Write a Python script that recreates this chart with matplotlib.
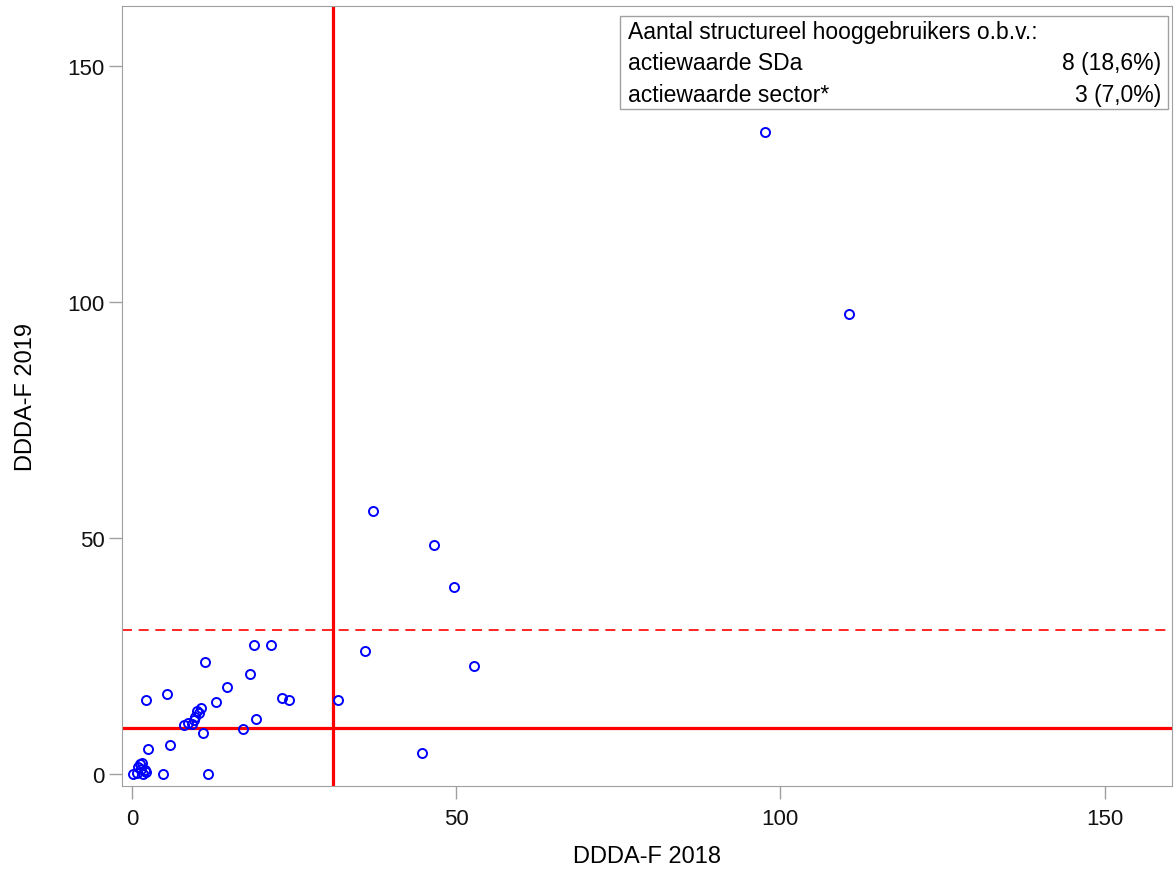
import matplotlib.pyplot as plt
from matplotlib.patches import Rectangle

plt.rcParams['font.family'] = ['Liberation Sans', 'DejaVu Sans']

# DDDA-F per bedrijf (2018 vs 2019)
ddda_2018 = [18.8, 21.5, 11.3, 18.2, 14.7, 5.4, 2.2, 12.9, 23.1, 24.2,
             31.7, 10.6, 10.3, 9.7, 8.1, 9.2, 10.9, 19.1, 17.1, 2.5,
             5.9, 1.3, 1.0, 2.0, 0.1, 1.7, 4.8, 11.8,
             37.2, 46.6, 49.7, 36.0, 52.7, 44.8, 97.6, 110.6,
             1.6, 0.8, 1.4, 2.2, 10.0, 9.5, 8.6]
ddda_2019 = [27.3, 27.3, 23.7, 21.3, 18.4, 16.9, 15.7, 15.3, 16.1, 15.7,
             15.7, 14.1, 12.9, 12.1, 10.5, 10.7, 8.8, 11.7, 9.6, 5.3,
             6.1, 2.1, 1.6, 0.8, 0.0, 0.0, 0.0, 0.1,
             55.7, 48.5, 39.7, 26.1, 22.9, 4.4, 136.0, 97.5,
             2.4, 0.2, 1.0, 0.5, 13.3, 11.5, 10.8]

actiewaarde_2018 = 31.0
actiewaarde_2019 = 9.75
actiewaarde_sector = 30.5

legend_rows = [('Aantal structureel hooggebruikers o.b.v.:', ''),
               ('actiewaarde SDa', '8 (18,6%)'),
               ('actiewaarde sector*', '3 (7,0%)')]

fig = plt.figure(figsize=(11.74, 8.70), dpi=100)
ax = fig.add_axes([0.1039, 0.0954, 0.8944, 0.8966])

ax.plot(ddda_2018, ddda_2019, 'o', markerfacecolor='none', markeredgecolor='#0000ff',
        markersize=6.5, markeredgewidth=1.4, zorder=3)

ax.axvline(actiewaarde_2018, color='#ff0000', lw=2.3, zorder=2)
ax.axhline(actiewaarde_2019, color='#ff0000', lw=2.3, zorder=2)
ax.axhline(actiewaarde_sector, color='#ff0000', lw=1.2, ls=(0, (6, 4)), zorder=2)

ax.set_xlim(-1.54, 160.4)
ax.set_ylim(-2.5, 162.7)
ax.set_xticks([0, 50, 100, 150])
ax.set_yticks([0, 50, 100, 150])
for s in ax.spines.values():
    s.set_color('#a0a0a0')
ax.tick_params(colors='#a0a0a0', labelcolor='#111111', length=9.5, width=1, labelsize=16)
ax.tick_params(axis='y', pad=3)
ax.tick_params(axis='x', pad=6)

ax.set_xlabel('DDDA-F 2018', fontsize=17, labelpad=12)
ax.set_ylabel('DDDA-F 2019', fontsize=17, labelpad=22)

# legend box
ax.add_patch(Rectangle((0.474, 0.868), 0.522, 0.119, transform=ax.transAxes,
                       facecolor='white', edgecolor='#a0a0a0', lw=1, zorder=4))
row_y = [0.967, 0.927, 0.887]
for (label, value), yy in zip(legend_rows, row_y):
    ax.text(0.482, yy, label, transform=ax.transAxes, fontsize=16.5,
            va='center', ha='left', zorder=5)
    ax.text(0.990, yy, value, transform=ax.transAxes, fontsize=16.5,
            va='center', ha='right', zorder=5)

fig.savefig('out.png', dpi=100)
